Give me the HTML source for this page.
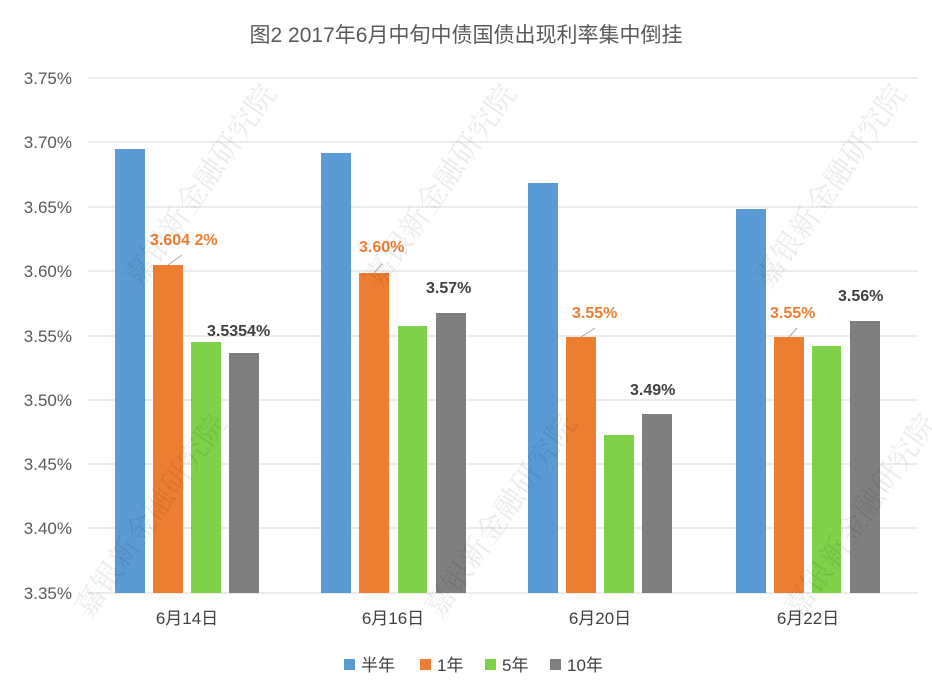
<!DOCTYPE html><html><head><meta charset="utf-8"><style>body{margin:0;background:#fff}svg{display:block}</style></head><body>
<svg width="932" height="700" xmlns="http://www.w3.org/2000/svg" font-family="Liberation Sans, Noto Sans CJK SC, sans-serif">
<rect width="932" height="700" fill="#fff"/>
<text x="466" y="42" font-size="21" fill="#595959" text-anchor="middle">图2 2017年6月中旬中债国债出现利率集中倒挂</text>
<g stroke="#d9d9d9" stroke-width="1">
<line x1="88" x2="918" y1="78" y2="78"/><line x1="88" x2="918" y1="142" y2="142"/><line x1="88" x2="918" y1="207" y2="207"/><line x1="88" x2="918" y1="271" y2="271"/><line x1="88" x2="918" y1="336" y2="336"/><line x1="88" x2="918" y1="400" y2="400"/><line x1="88" x2="918" y1="464" y2="464"/><line x1="88" x2="918" y1="528" y2="528"/><line x1="88" x2="918" y1="593" y2="593"/>
</g>
<g font-size="17" fill="#595959" text-anchor="end">
<text x="72" y="84">3.75%</text><text x="72" y="148">3.70%</text><text x="72" y="213">3.65%</text><text x="72" y="277">3.60%</text><text x="72" y="342">3.55%</text><text x="72" y="406">3.50%</text><text x="72" y="470">3.45%</text><text x="72" y="534">3.40%</text><text x="72" y="599">3.35%</text>
</g>
<g fill="#5b9bd5"><rect x="115" y="149" width="30" height="444"/><rect x="321" y="153" width="30" height="440"/><rect x="528" y="183" width="30" height="410"/><rect x="736" y="209" width="30" height="384"/></g>
<g fill="#ed7d31"><rect x="153" y="265" width="30" height="328"/><rect x="359" y="273" width="30" height="320"/><rect x="566" y="337" width="30" height="256"/><rect x="774" y="337" width="30" height="256"/></g>
<g fill="#7fd14a"><rect x="191" y="342" width="30" height="251"/><rect x="398" y="326" width="29" height="267"/><rect x="604" y="435" width="30" height="158"/><rect x="812" y="346" width="29" height="247"/></g>
<g fill="#7f7f7f"><rect x="229" y="353" width="30" height="240"/><rect x="436" y="313" width="30" height="280"/><rect x="642" y="414" width="30" height="179"/><rect x="850" y="321" width="30" height="272"/></g>
<g stroke="#a6a6a6" stroke-width="1"><line x1="168" y1="265" x2="182" y2="255"/><line x1="374" y1="273" x2="382" y2="264"/><line x1="581" y1="337" x2="595" y2="328"/><line x1="789" y1="337" x2="797" y2="328"/></g>
<g font-size="16" font-weight="bold">
<text x="150" y="245" fill="#ed7d31">3.604 2%</text>
<text x="359" y="252" fill="#ed7d31">3.60%</text>
<text x="572" y="318" fill="#ed7d31">3.55%</text>
<text x="770" y="318" fill="#ed7d31">3.55%</text>
<text x="207" y="336" fill="#404040">3.5354%</text>
<text x="426" y="293" fill="#404040">3.57%</text>
<text x="630" y="395" fill="#404040">3.49%</text>
<text x="838" y="301" fill="#404040">3.56%</text>
</g>
<g font-size="17" fill="#404040" text-anchor="middle"><text x="187" y="624">6月14日</text><text x="393" y="624">6月16日</text><text x="600" y="624">6月20日</text><text x="808" y="624">6月22日</text></g>
<g font-size="17" fill="#404040">
<rect x="344" y="659" width="11" height="11" fill="#5b9bd5"/><text x="361" y="671">半年</text>
<rect x="420" y="659" width="11" height="11" fill="#ed7d31"/><text x="437" y="671">1年</text>
<rect x="485" y="659" width="11" height="11" fill="#7fd14a"/><text x="502" y="671">5年</text>
<rect x="550" y="659" width="11" height="11" fill="#7f7f7f"/><text x="567" y="671">10年</text>
</g>
<g font-size="30" fill="#000" opacity="0.08" font-family="Noto Serif CJK SC, serif">
<text transform="translate(140,290) rotate(-55)">嘉银新金融研究院</text>
<text transform="translate(380,290) rotate(-55)">嘉银新金融研究院</text>
<text transform="translate(770,290) rotate(-55)">嘉银新金融研究院</text>
<text transform="translate(90,620) rotate(-55)">嘉银新金融研究院</text>
<text transform="translate(440,620) rotate(-55)">嘉银新金融研究院</text>
<text transform="translate(800,620) rotate(-55)">嘉银新金融研究院</text>
</g>
</svg></body></html>
